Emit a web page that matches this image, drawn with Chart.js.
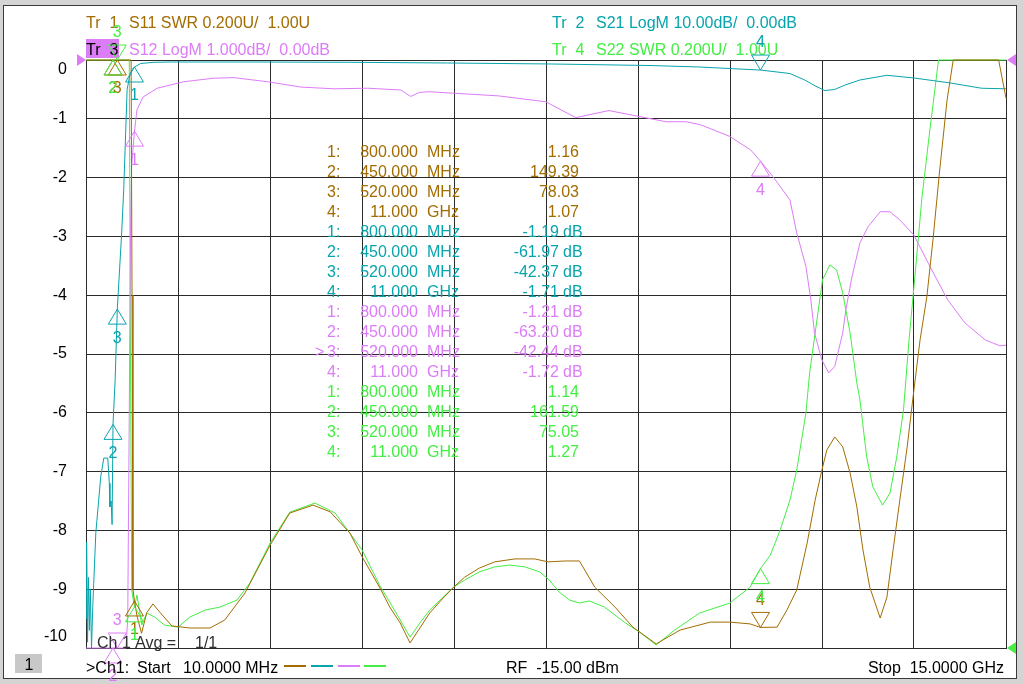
<!DOCTYPE html>
<html>
<head>
<meta charset="utf-8">
<script src="https://cdn.jsdelivr.net/npm/chart.js@4.4.0/dist/chart.umd.min.js"></script>
<style>
  body { margin: 0; background: #d4d4d4; }
  #wrap { position: absolute; left: 0; top: 0; width: 1023px; height: 684px; }
</style>
</head>
<body>
<div id="wrap"><canvas id="vna" width="1023" height="684"></canvas></div>
<script>
// sweep 10 MHz .. 15 GHz, frequencies in GHz
const startGHz = 0.01;
const stopGHz = 15.0;

// Tr1 S11 SWR (0.200U/div, ref 1.00U at bottom)
const s11Freq = [0.01, 0.2, 0.45, 0.52, 0.65, 0.72, 0.745, 0.76, 0.775, 0.8, 0.84, 0.915, 1.0, 1.1, 1.22, 1.41, 1.7, 2.03, 2.27, 2.6,
  3.01, 3.33, 3.71, 3.99, 4.31, 4.51, 4.8, 4.96, 5.13, 5.29, 5.45, 5.61, 5.83, 6.0, 6.18, 6.42, 6.67, 7.0, 7.32, 7.54,
  7.82, 8.05, 8.3, 8.63, 8.92, 9.3, 9.69, 10.18, 10.5, 10.83, 11.0, 11.27, 11.43, 11.59, 11.76, 11.89, 12.0, 12.08, 12.21, 12.34,
  12.46, 12.57, 12.67, 12.78, 12.95, 13.06, 13.16, 13.27, 13.39, 13.48, 13.6, 13.71, 13.81, 13.92, 14.04, 14.14, 14.5, 14.88, 15.0];
const s11Swr = [400, 250, 149.39, 78.03, 40, 12, 6, 2.2, 1.2, 1.16, 1.11, 1.05, 1.12, 1.15, 1.12, 1.075, 1.068, 1.068, 1.095, 1.187,
  1.35, 1.459, 1.486, 1.463, 1.391, 1.31, 1.204, 1.139, 1.085, 1.017, 1.068, 1.119, 1.17, 1.207, 1.241, 1.272, 1.293, 1.303, 1.303, 1.293,
  1.296, 1.296, 1.207, 1.139, 1.071, 1.014, 1.061, 1.088, 1.088, 1.082, 1.07, 1.071, 1.129, 1.197, 1.357, 1.503, 1.605, 1.673, 1.718, 1.684,
  1.595, 1.48, 1.333, 1.207, 1.102, 1.173, 1.333, 1.503, 1.684, 1.844, 2.048, 2.194, 2.388, 2.626, 2.864, 3.1, 3.6, 3.05, 2.87];

// Tr2 S21 LogM (10 dB/div, ref 0 dB at top)
const s21Freq = [0.01, 0.02, 0.035, 0.05, 0.065, 0.08, 0.1, 0.12, 0.17, 0.25, 0.3, 0.365, 0.39, 0.4, 0.42, 0.435, 0.45, 0.485, 0.52, 0.59,
  0.625, 0.68, 0.72, 0.76, 0.8, 0.9, 1.1, 1.4, 2.7, 4.3, 5.9, 7.6, 9.2, 10.0, 11.0, 11.48, 11.72, 11.89, 12.05, 12.21,
  12.38, 12.62, 13.06, 13.5, 14.09, 14.6, 15.0];
const s21Db = [-95, -82, -99, -88, -97, -90, -100, -93, -80.4, -70.9, -67.7, -67.7, -72, -76, -75, -79, -61.97, -54.4, -42.37, -29.6,
  -22, -5, -2.8, -1.6, -1.19, -0.6, -0.4, -0.34, -0.34, -0.39, -0.51, -0.68, -0.94, -1.19, -1.71, -2.3, -3.4, -4.4, -5.2, -5.0,
  -4.25, -3.4, -2.6, -3.06, -3.9, -4.8, -4.9];

// Tr3 S12 LogM (1 dB/div, ref 0 dB at top) - active trace, owns the scale labels
const s12Freq = [0.01, 0.2, 0.45, 0.52, 0.6, 0.66, 0.69, 0.715, 0.735, 0.754, 0.8, 0.84, 0.94, 1.17, 1.6, 2.09, 2.42, 2.97, 3.51, 4.05,
  4.6, 5.14, 5.3, 5.45, 5.6, 6.73, 7.5, 7.99, 8.53, 9.07, 9.46, 9.79, 10.02, 10.5, 10.84, 11.0, 11.2, 11.48, 11.59, 11.74,
  11.82, 11.88, 12.0, 12.11, 12.21, 12.34, 12.39, 12.49, 12.62, 12.75, 12.95, 13.11, 13.27, 13.5, 13.76, 14.05, 14.33, 14.66, 14.9, 15.0];
const s12Db = [-40, -55, -63.2, -42.44, -30, -10.5, -9.5, -6, -3, -1.79, -1.21, -0.85, -0.63, -0.48, -0.37, -0.31, -0.3, -0.37, -0.46, -0.49,
  -0.48, -0.51, -0.62, -0.55, -0.54, -0.61, -0.71, -0.98, -0.86, -0.97, -1.05, -1.05, -1.1, -1.3, -1.53, -1.72, -1.98, -2.38, -2.94, -3.51,
  -4.08, -4.64, -5.1, -5.32, -5.21, -4.64, -4.25, -3.69, -3.11, -2.84, -2.58, -2.58, -2.72, -2.98, -3.51, -4.08, -4.47, -4.76, -4.86, -4.85];

// Tr4 S22 SWR (0.200U/div, ref 1.00U at bottom)
const s22Freq = [0.01, 0.2, 0.45, 0.52, 0.65, 0.715, 0.735, 0.755, 0.775, 0.8, 0.84, 0.92, 1.0, 1.13, 1.29, 1.51, 1.7, 1.95, 2.19, 2.47,
  2.68, 3.01, 3.33, 3.74, 4.07, 4.51, 4.8, 4.96, 5.13, 5.29, 5.45, 5.61, 5.83, 6.0, 6.18, 6.42, 6.67, 6.91, 7.16, 7.4,
  7.56, 7.72, 7.89, 8.05, 8.21, 8.46, 8.78, 9.03, 9.3, 9.6, 10.01, 10.5, 10.83, 11.0, 11.16, 11.32, 11.48, 11.59, 11.74, 11.8,
  11.92, 12.01, 12.13, 12.24, 12.34, 12.46, 12.57, 12.62, 12.73, 12.83, 12.99, 13.11, 13.22, 13.33, 13.42, 13.53, 13.63, 13.74, 13.82, 13.9,
  14.3, 15.0];
const s22Swr = [300, 250, 161.59, 75.05, 30, 8, 2.0, 1.2, 1.17, 1.14, 1.18, 1.078, 1.119, 1.105, 1.078, 1.071, 1.105, 1.129, 1.139, 1.163,
  1.221, 1.357, 1.462, 1.493, 1.459, 1.333, 1.211, 1.156, 1.095, 1.037, 1.085, 1.129, 1.173, 1.207, 1.231, 1.259, 1.276, 1.282, 1.276, 1.259,
  1.231, 1.19, 1.163, 1.153, 1.16, 1.139, 1.088, 1.054, 1.01, 1.061, 1.119, 1.153, 1.207, 1.27, 1.316, 1.401, 1.503, 1.605, 1.799, 1.935,
  2.116, 2.252, 2.303, 2.286, 2.207, 2.071, 1.901, 1.844, 1.65, 1.548, 1.486, 1.527, 1.65, 1.81, 2.048, 2.296, 2.531, 2.728, 2.864, 3.2,
  5, 6];

// markers
const markerFreq = [0.8, 0.45, 0.52, 11.0];
const markerFreqText = ['800.000', '450.000', '520.000', '11.000'];
const markerUnitText = ['MHz', 'MHz', 'MHz', 'GHz'];
const s11Markers = [1.16, 149.39, 78.03, 1.07];
const s21Markers = [-1.19, -61.97, -42.37, -1.71];
const s12Markers = [-1.21, -63.20, -42.44, -1.72];
const s22Markers = [1.14, 161.59, 75.05, 1.27];

// y scale labels (Tr3)
const yTickValues = [0, -1, -2, -3, -4, -5, -6, -7, -8, -9, -10];
const yTickLabels = ['0', '-1', '-2', '-3', '-4', '-5', '-6', '-7', '-8', '-9', '-10'];

const brown = '#a26c00';
const teal = '#08a4ac';
const violet = '#dd7cf7';
const green = '#44ee44';
const gridColour = '#2a2a2a';
const font = '"Liberation Sans", Arial, sans-serif';

const xGrid = [];
for (let i = 0; i <= 10; i++) {
    xGrid.push(startGHz + i * (stopGHz - startGHz) / 10);
}

// the analyzer pins anything off screen to the edge of the graticule
function points(freq, vals, lo, hi) {
    return freq.map((f, i) => ({ x: f, y: Math.min(hi, Math.max(lo, vals[i])) }));
}

const traces = [
    { vals: s11Markers, axis: 'ySwr', colour: brown, dirs: ['up', 'up', 'up', 'down'], unit: '' },
    { vals: s21Markers, axis: 'yS21', colour: teal, dirs: ['up', 'up', 'up', 'down'], unit: ' dB' },
    { vals: s12Markers, axis: 'y', colour: violet, dirs: ['up', 'up', 'down', 'up'], unit: ' dB' },
    { vals: s22Markers, axis: 'ySwr', colour: green, dirs: ['up', 'up', 'down', 'up'], unit: '' }
];

function drawMarker(c, x, y, dir, label, colour) {
    let by = dir == 'up' ? y + 15 : y - 15;
    c.strokeStyle = colour;
    c.lineWidth = 1;
    c.beginPath();
    c.moveTo(x, y);
    c.lineTo(x - 9, by);
    c.lineTo(x + 9, by);
    c.closePath();
    c.stroke();
    c.fillStyle = colour;
    c.textAlign = 'center';
    c.textBaseline = 'middle';
    c.fillText(label, x, dir == 'up' ? y + 29 : y - 27);
}

function text(c, str, x, y, colour, align) {
    c.fillStyle = colour;
    c.textAlign = align || 'left';
    c.fillText(str, x, y);
}

const vnaDecor = {
    id: 'vnaDecor',
    beforeDraw(chart) {
        let c = chart.ctx;
        c.save();
        c.fillStyle = '#d4d4d4';
        c.fillRect(0, 0, 1023, 684);
        c.fillStyle = '#ffffff';
        c.fillRect(3, 5, 1014, 674);
        c.strokeStyle = '#3a3a3a';
        c.lineWidth = 1;
        c.strokeRect(3.5, 5.5, 1013, 673);
        c.restore();
    },
    beforeDatasetsDraw(chart) {
        let c = chart.ctx;
        let ys = chart.scales.y;
        c.save();
        c.font = '16px ' + font;

        // scale labels, the end ones pulled inside the graticule
        c.textBaseline = 'middle';
        yTickValues.forEach((v, i) => {
            let py = ys.getPixelForValue(v);
            if (i == 0) py += 10;
            if (i == yTickValues.length - 1) py -= 11;
            text(c, yTickLabels[i], 67, py, '#000000', 'right');
        });

        // trace headers
        c.textBaseline = 'alphabetic';
        text(c, 'Tr  1', 86, 28, brown);
        text(c, 'S11 SWR 0.200U/  1.00U', 129, 28, brown);
        text(c, 'Tr  2', 552, 28, teal);
        text(c, 'S21 LogM 10.00dB/  0.00dB', 596, 28, teal);
        c.fillStyle = violet;
        c.fillRect(86, 39, 33, 19);
        text(c, 'Tr  3', 86, 55, '#000000');
        text(c, 'S12 LogM 1.000dB/  0.00dB', 129, 55, violet);
        text(c, 'Tr  4', 552, 55, green);
        text(c, 'S22 SWR 0.200U/  1.00U', 596, 55, green);

        // marker table
        c.textBaseline = 'middle';
        let row = 0;
        traces.forEach((t, ti) => {
            t.vals.forEach((v, mi) => {
                let ty = 153 + row * 20;
                if (ti == 2 && mi == 2) text(c, '>', 315, ty, t.colour);
                text(c, (mi + 1) + ':', 327, ty, t.colour);
                text(c, markerFreqText[mi], 418, ty, t.colour, 'right');
                text(c, markerUnitText[mi], 427, ty, t.colour);
                if (t.unit) {
                    text(c, v.toFixed(2), 559, ty, t.colour, 'right');
                    text(c, 'dB', 563, ty, t.colour);
                } else {
                    text(c, v.toFixed(2), 579, ty, t.colour, 'right');
                }
                row++;
            });
        });
        c.restore();
    },
    afterDatasetsDraw(chart) {
        let c = chart.ctx;
        let area = chart.chartArea;
        let xs = chart.scales.x;
        c.save();
        c.font = '16px ' + font;

        traces.forEach((t) => {
            let sc = chart.scales[t.axis];
            t.vals.forEach((v, mi) => {
                let px = xs.getPixelForValue(markerFreq[mi]);
                let py = Math.min(area.bottom, Math.max(area.top, sc.getPixelForValue(v)));
                drawMarker(c, px, py, t.dirs[mi], String(mi + 1), t.colour);
            });
        });

        // reference level arrows
        c.fillStyle = violet;
        c.beginPath();
        c.moveTo(77, area.top - 6); c.lineTo(77, area.top + 6); c.lineTo(86, area.top);
        c.fill();
        c.beginPath();
        c.moveTo(1016, area.top - 6); c.lineTo(1016, area.top + 6); c.lineTo(1007, area.top);
        c.fill();
        c.fillStyle = green;
        c.beginPath();
        c.moveTo(1016, area.bottom - 6); c.lineTo(1016, area.bottom + 6); c.lineTo(1007, area.bottom);
        c.fill();

        // channel status
        c.textBaseline = 'alphabetic';
        text(c, 'Ch 1', 97, 648, '#303030');
        text(c, 'Avg =', 135, 648, '#303030');
        text(c, '1/1', 195, 648, '#303030');

        // footer
        c.fillStyle = '#c8c8c8';
        c.fillRect(15, 654, 27, 19);
        text(c, '1', 29, 670, '#000000', 'center');
        text(c, '>Ch1:', 86, 673, '#000000');
        text(c, 'Start', 137, 673, '#000000');
        text(c, '10.0000 MHz', 183, 673, '#000000');
        [[brown, 284], [teal, 311], [violet, 338], [green, 364]].forEach((s) => {
            c.strokeStyle = s[0];
            c.lineWidth = 2;
            c.beginPath();
            c.moveTo(s[1], 666);
            c.lineTo(s[1] + 22, 666);
            c.stroke();
        });
        text(c, 'RF  -15.00 dBm', 506, 673, '#000000');
        text(c, 'Stop  15.0000 GHz', 1004, 673, '#000000', 'right');
        c.restore();
    }
};

window.addEventListener('load', function () {
    let ctx = document.getElementById('vna').getContext('2d');
    new Chart(ctx, {
        type: 'scatter',
        data: {
            datasets: [
                { label: 'S11', data: points(s11Freq, s11Swr, 1, 3), yAxisID: 'ySwr', borderColor: brown, showLine: true, clip: 3 },
                { label: 'S21', data: points(s21Freq, s21Db, -100, 0), yAxisID: 'yS21', borderColor: teal, showLine: true, clip: 3 },
                { label: 'S12', data: points(s12Freq, s12Db, -10, 0), yAxisID: 'y', borderColor: violet, showLine: true, clip: 3 },
                { label: 'S22', data: points(s22Freq, s22Swr, 1, 3), yAxisID: 'ySwr', borderColor: green, showLine: true, clip: 3 }
            ]
        },
        options: {
            responsive: false,
            animation: false,
            devicePixelRatio: 1,
            layout: { padding: { left: 86, top: 60, right: 17, bottom: 36 } },
            plugins: { legend: { display: false }, tooltip: { enabled: false } },
            elements: {
                point: { radius: 0 },
                line: { borderWidth: 1, tension: 0 }
            },
            scales: {
                x: {
                    type: 'linear', min: startGHz, max: stopGHz,
                    afterBuildTicks: (scale) => { scale.ticks = xGrid.map((v) => ({ value: v })); },
                    ticks: { display: false },
                    grid: { color: gridColour, lineWidth: 1, drawTicks: false },
                    border: { color: gridColour }
                },
                y: {
                    min: -10, max: 0,
                    ticks: { display: false, stepSize: 1 },
                    grid: { color: gridColour, lineWidth: 1, drawTicks: false },
                    border: { color: gridColour }
                },
                yS21: { display: false, min: -100, max: 0 },
                ySwr: { display: false, min: 1, max: 3 }
            }
        },
        plugins: [vnaDecor]
    });
});
</script>
</body>
</html>
